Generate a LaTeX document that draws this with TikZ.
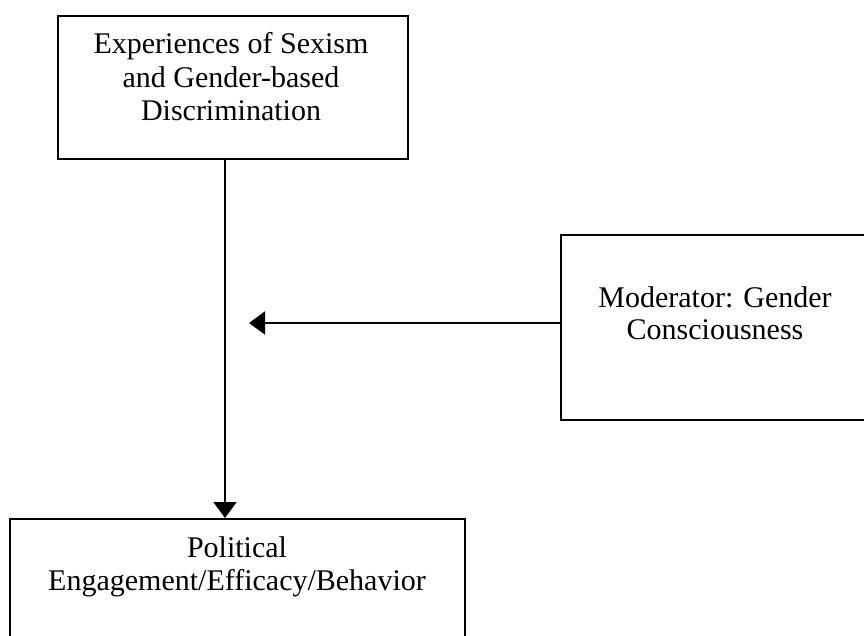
\documentclass[tikz,border=0pt]{standalone}
\usepackage{fontspec}
\setmainfont{Liberation Serif}
\usetikzlibrary{arrows.meta}
\begin{document}
\begin{tikzpicture}[x=1pt,y=-1pt,
  box/.style={draw=black, line width=2pt, inner sep=0pt, anchor=north west, rectangle},
  lbl/.style={anchor=base, inner sep=0pt, font=\fontsize{30}{34}\selectfont},
  conn/.style={draw=black, line width=2pt, -{Triangle[length=16pt,width=23pt]}}]
\useasboundingbox (0,0) rectangle (864,635);
\begin{scope}
\clip (0,0) rectangle (864,635);
\node[box, minimum width=350pt, minimum height=143pt] (exp) at (57,15) {};
\node[box, minimum width=455pt, minimum height=150pt] (pol) at (9,518) {};
\node[box, minimum width=312pt, minimum height=185pt] (mod) at (560,234) {};
\node[lbl] (exp1) at (231,53) {Experiences of Sexism};
\node[lbl] (exp2) at (231,87) {and Gender-based};
\node[lbl] (exp3) at (231,120) {Discrimination};
\node[lbl] (pol1) at (237,557) {Political};
\node[lbl] (pol2) at (237,590) {Engagement/Efficacy/Behavior};
\node[lbl] (mod1) at (715,307) {Moderator: Gender};
\node[lbl] (mod2) at (715,339) {Consciousness};
\coordinate (vline) at (225,0);
\coordinate (tip) at (249,323);
\draw[conn] (exp.south -| vline) -- (pol.north -| vline);
\draw[conn] (mod.west |- tip) -- (tip);
\end{scope}
\end{tikzpicture}
\end{document}
